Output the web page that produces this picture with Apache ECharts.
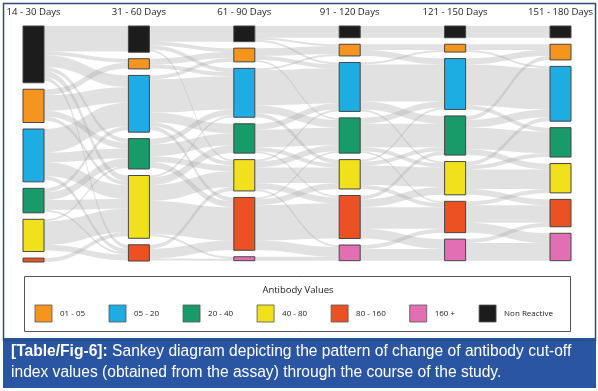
<!DOCTYPE html>
<html><head><meta charset="utf-8">
<script src="https://cdn.jsdelivr.net/npm/echarts@6/dist/echarts.min.js"></script>
<style>html,body{margin:0;padding:0;background:#fff}#c{width:598px;height:391px}</style>
</head><body><div id="c"></div>
<script>
// ---- data ----
const periods = ['14 - 30 Days', '31 - 60 Days', '61 - 90 Days', '91 - 120 Days', '121 - 150 Days', '151 - 180 Days'];
const categories = ['Non Reactive', '01 - 05', '05 - 20', '20 - 40', '40 - 80', '80 - 160', '160 +'];
const legendOrder = ['01 - 05', '05 - 20', '20 - 40', '40 - 80', '80 - 160', '160 +', 'Non Reactive'];
const legendTitle = 'Antibody Values';
const captionBold = '[Table/Fig-6]:';
const captionLine1 = ' Sankey diagram depicting the pattern of change of antibody cut-off';
const captionLine2 = 'index values (obtained from the assay) through the course of the study.';

// node sizes for the first two periods (later periods follow the flows)
const nodeSize_1 = [29, 17, 27, 12.5, 16.5, 2, 0];
const nodeSize_2 = [13.4, 5.2, 29, 15.5, 32.1, 8.3, 0];
const nodeSizes = [nodeSize_1, nodeSize_2];

// rows = source category, cols = target category (order of `categories`)
const flows_1_2 = [
  [13, 2, 6, 2, 3, 2, 0],
  [0, 3, 8, 3, 2, 0, 0],
  [0, 0, 12, 5, 7, 2, 0],
  [0, 0, 2, 4, 5, 1, 0],
  [0, 0, 0, 1, 12, 3, 0],
  [0, 0, 0, 0, 2, 0, 0],
  [0, 0, 0, 0, 0, 0, 0]
];
const flows_2_3 = [
  [8, 2, 2, 0, 1, 0, 0],
  [0, 3, 2, 0, 0, 0, 0],
  [0, 2, 17, 5, 2, 2, 0],
  [0, 0, 3, 6, 3, 3, 0],
  [0, 0, 1, 4, 8, 17, 1],
  [0, 0, 0, 0, 2, 5, 1],
  [0, 0, 0, 0, 0, 0, 0]
];
const flows_3_4 = [
  [6, 1, 1, 0, 0, 0, 0],
  [0, 4, 2, 1, 0, 0, 0],
  [0, 1, 18, 4, 2, 0, 0],
  [0, 0, 3, 9, 2, 1, 0],
  [0, 0, 1, 3, 8, 3, 1],
  [0, 0, 0, 1, 3, 18, 5],
  [0, 0, 0, 0, 0, 0, 2]
];
const flows_4_5 = [
  [6, 0, 0, 0, 0, 0, 0],
  [0, 3, 3, 0, 0, 0, 0],
  [0, 1, 19, 4, 1, 0, 0],
  [0, 0, 3, 12, 2, 1, 0],
  [0, 0, 1, 2, 10, 2, 0],
  [0, 0, 0, 2, 4, 11, 5],
  [0, 0, 0, 0, 0, 2, 6]
];
const flows_5_6 = [
  [6, 0, 0, 0, 0, 0, 0],
  [0, 3, 1, 0, 0, 0, 0],
  [0, 3, 21, 2, 0, 0, 0],
  [0, 2, 4, 11, 3, 0, 0],
  [0, 0, 2, 2, 10, 3, 0],
  [0, 0, 0, 0, 2, 9, 5],
  [0, 0, 0, 0, 0, 2, 9]
];
const transitions = [flows_1_2, flows_2_3, flows_3_4, flows_4_5, flows_5_6];

// ---- styles ----
const catColors = {
  'Non Reactive': '#1c1c1c', '01 - 05': '#f5951f', '05 - 20': '#1eade3',
  '20 - 40': '#189a69', '40 - 80': '#f1e11d', '80 - 160': '#ec5123', '160 +': '#e26fb3'
};
const L = 23, R = 27, T = 26, B = 129, NW = 21, W = 598;

// ---- build sankey data ----
const nodes = [], links = [];
const nm = (p, c) => periods[p] + '|' + categories[c];
periods.forEach((per, p) => {
  categories.forEach((cat, c) => {
    let inV = 0, outV = 0;
    if (p > 0) transitions[p - 1].forEach(row => inV += row[c]);
    if (p < transitions.length) transitions[p][c].forEach(v => outV += v);
    if (inV + outV > 0) {
      const n = { name: nm(p, c), depth: p, itemStyle: { color: catColors[cat] } };
      if (nodeSizes[p]) n.value = nodeSizes[p][c];
      nodes.push(n);
    }
  });
});
transitions.forEach((m, p) => {
  m.forEach((row, s) => row.forEach((v, t) => {
    if (v > 0) links.push({ source: nm(p, s), target: nm(p + 1, t), value: v });
  }));
});

// ---- graphics ----
const graphics = [];
graphics.push({ type: 'rect', shape: { x: 3.5, y: 3.5, width: 592, height: 337 }, style: { fill: null, stroke: '#2d4c7e', lineWidth: 1.5 }, z: 1 });
const step = (W - L - R - NW) / (periods.length - 1);
periods.forEach((per, i) => {
  graphics.push({ type: 'text', x: L + NW / 2 + i * step, y: 12, style: { text: per, font: '9.6px "Open Sans"', fill: '#1e1e1e', align: 'center', verticalAlign: 'middle' } });
});
graphics.push({ type: 'rect', shape: { x: 24.5, y: 276.5, width: 546, height: 55 }, style: { fill: '#fff', stroke: '#555', lineWidth: 1 } });
graphics.push({ type: 'text', x: 298, y: 290, style: { text: legendTitle, font: '9.5px "Open Sans"', fill: '#222', align: 'center', verticalAlign: 'middle' } });
const cv = document.createElement('canvas').getContext('2d');
const lf = '8px "Open Sans"';
cv.font = lf;
let lx = 35;
legendOrder.forEach(cat => {
  graphics.push({ type: 'rect', shape: { x: lx, y: 305, width: 17, height: 17 }, style: { fill: catColors[cat], stroke: '#555', lineWidth: 0.8 } });
  graphics.push({ type: 'text', x: lx + 25, y: 313.5, style: { text: cat, font: lf, fill: '#222', verticalAlign: 'middle' } });
  lx += 25 + cv.measureText(cat).width + 24;
});
graphics.push({ type: 'rect', shape: { x: 3, y: 338, width: 593, height: 50 }, style: { fill: '#2a55a2' } });
graphics.push({ type: 'text', x: 11, y: 352, style: {
  text: '{b|' + captionBold + '}' + captionLine1,
  rich: { b: { font: 'bold 15.6px "Liberation Sans"', fill: '#fff' } },
  font: '15.6px "Liberation Sans"', fill: '#fff', verticalAlign: 'middle' } });
graphics.push({ type: 'text', x: 11, y: 373, style: { text: captionLine2, font: '15.6px "Liberation Sans"', fill: '#fff', verticalAlign: 'middle' } });

const chart = echarts.init(document.getElementById('c'), null, { renderer: 'canvas' });
chart.setOption({
  animation: false,
  backgroundColor: '#fff',
  graphic: graphics,
  series: [{
    type: 'sankey',
    left: L, right: R, top: T, bottom: B,
    nodeWidth: NW, nodeGap: 6.5,
    layoutIterations: 0,
    draggable: false,
    emphasis: { disabled: true },
    label: { show: false },
    itemStyle: { borderColor: '#454545', borderWidth: 1 },
    lineStyle: { color: '#a8a8a8', opacity: 0.35, curveness: 0.5 },
    data: nodes,
    links: links
  }]
});
</script></body></html>
